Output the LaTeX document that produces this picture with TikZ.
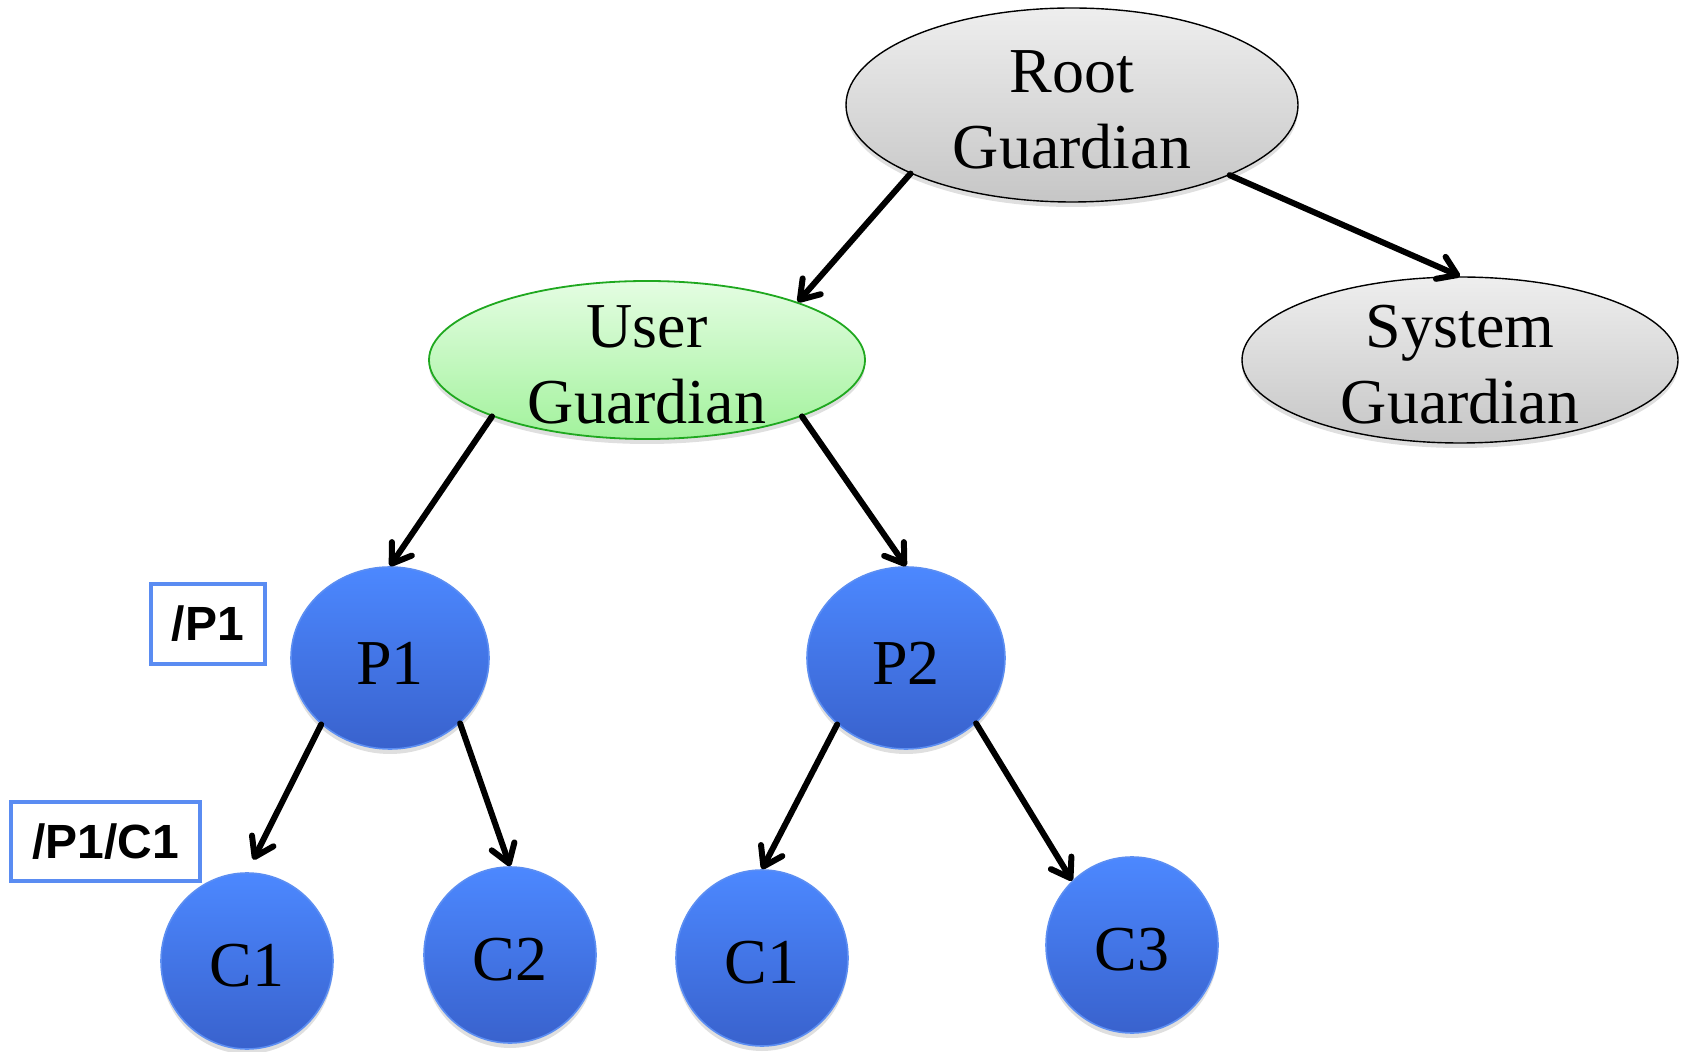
\documentclass[tikz,border=0pt]{standalone}
\usepackage{fontspec}
\setmainfont{Liberation Serif}
\newfontfamily\pathfont{Liberation Sans}
\usetikzlibrary{shapes.geometric,arrows.meta,shadows}

\definecolor{grayTop}{HTML}{EEEEEE}
\definecolor{grayBot}{HTML}{C6C6C6}
\definecolor{greenTop}{HTML}{E4FDE2}
\definecolor{greenBot}{HTML}{A2F29C}
\definecolor{greenEdge}{HTML}{1FA81F}
\definecolor{blueTop}{HTML}{4C88FF}
\definecolor{blueBot}{HTML}{3962CD}
\definecolor{blueEdge}{HTML}{5C8EF2}
\definecolor{pathEdge}{HTML}{5A8CF2}

\begin{document}
\begin{tikzpicture}[x=0.5pt,y=-0.5pt,
  softshadow/.style={drop shadow={shadow xshift=0pt,shadow yshift=-2.5pt,opacity=0.25}},
  txt/.style={align=center,inner sep=0pt,yshift=-2.5pt,font=\fontsize{32}{38}\selectfont},
  guard/.style={ellipse,draw=black,line width=0.7pt,inner sep=0pt,
    top color=grayTop,bottom color=grayBot,softshadow},
  userguard/.style={ellipse,draw=greenEdge,line width=0.9pt,inner sep=0pt,
    top color=greenTop,bottom color=greenBot,softshadow},
  actor/.style={ellipse,draw=blueEdge,line width=0.8pt,inner sep=0pt,
    top color=blueTop,bottom color=blueBot,softshadow,
    label={[txt]center:#1}},
  pathbox/.style={draw=pathEdge,line width=2pt,fill=white,inner sep=0pt,
    font=\pathfont\bfseries\fontsize{24}{27}\selectfont},
  arr/.style={line width=3pt,line cap=round,
    -{Straight Barb[length=9pt,width=12pt,round]}}
]
\useasboundingbox (0,0) rectangle (1687,1052);

% guardians
\node[guard,minimum width=226pt,minimum height=97pt,
  label={[txt]center:Root\\Guardian}] (root) at (1072,105) {};
\node[userguard,minimum width=218pt,minimum height=79pt,
  label={[txt]center:User\\Guardian}] (user) at (647,360) {};
\node[guard,minimum width=218pt,minimum height=83pt,
  label={[txt]center:System\\Guardian}] (sys) at (1460,360) {};

% parent actors
\node[actor=P1,minimum width=99pt,minimum height=91pt] (p1) at (390,658) {};
\node[actor=P2,minimum width=99pt,minimum height=91pt] (p2) at (906,658) {};

% child actors
\node[actor=C1,minimum width=86pt,minimum height=88pt] (c1a) at (247,961) {};
\node[actor=C2,minimum width=86pt,minimum height=88pt] (c2)  at (510,955) {};
\node[actor=C1,minimum width=86pt,minimum height=88pt] (c1b) at (762,958) {};
\node[actor=C3,minimum width=86pt,minimum height=88pt] (c3)  at (1132,945) {};

% actor paths
\node[pathbox,minimum width=57pt,minimum height=40pt] (pathp1) at (208,624) {/P1};
\node[pathbox,minimum width=94.5pt,minimum height=39.5pt] (pathc1) at (105.5,841.5) {/P1/C1};

% supervision links
\draw[arr] (root.203.5) -- (user.21);
\draw[arr] (root.336.7) -- (sys.north);
\draw[arr] (user.200) -- (p1.north);
\draw[arr] (user.340) -- (p2.north);
\draw[arr,shorten >=7pt] (p1.224) -- (c1a.north);
\draw[arr] (p1.317) -- (c2.north);
\draw[arr] (p2.224) -- (c1b.north);
\draw[arr] (p2.317) -- (c3.133);
\end{tikzpicture}
\end{document}
